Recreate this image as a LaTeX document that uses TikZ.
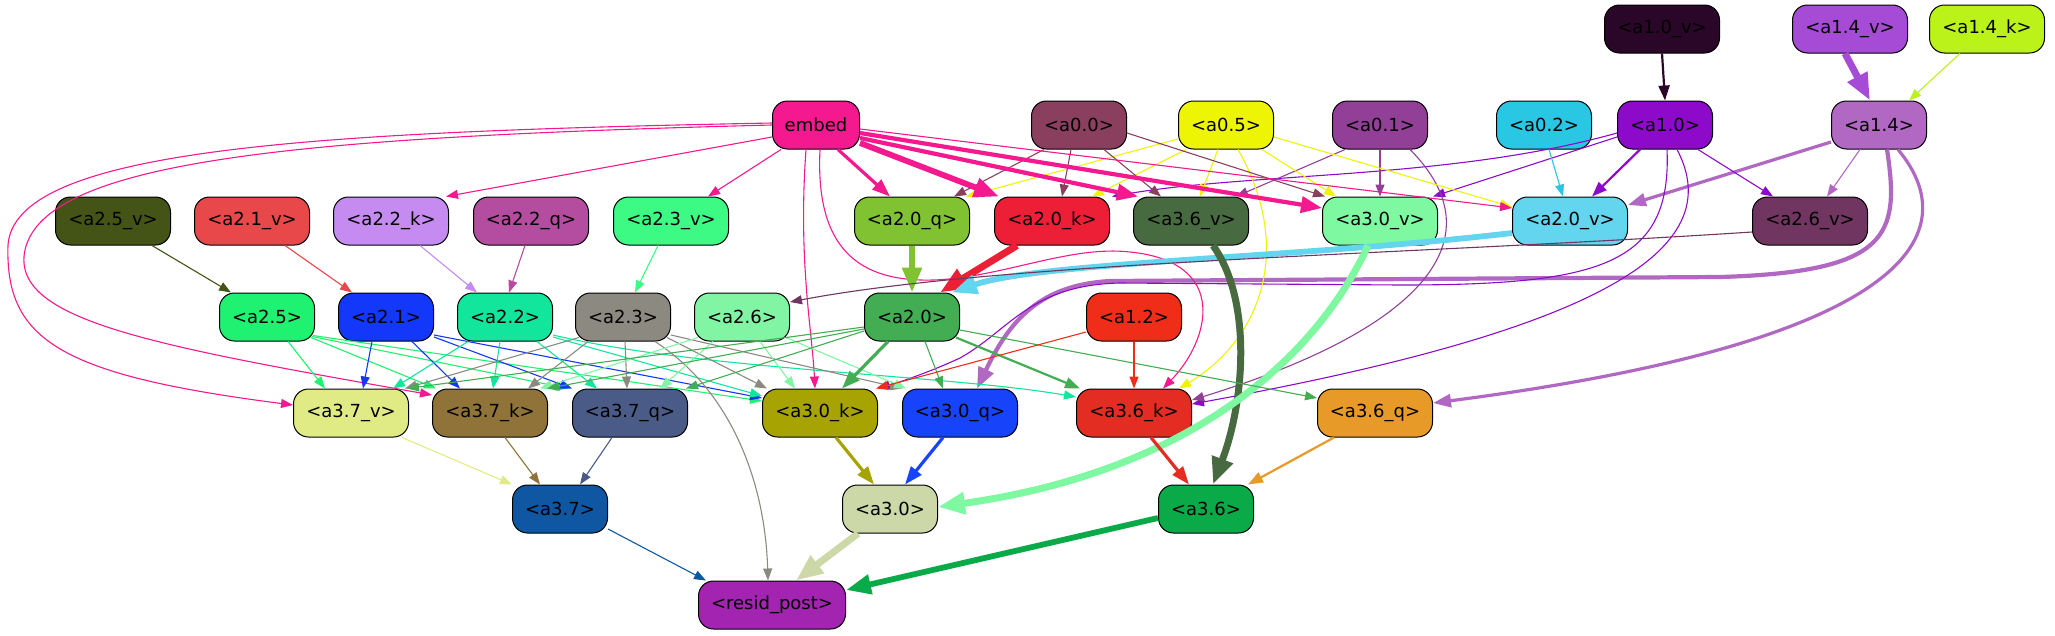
\documentclass[tikz,border=0pt]{standalone}
\usepackage{fontspec}
\setmainfont{DejaVu Sans}
\usetikzlibrary{arrows.meta}
\definecolor{c10v}{HTML}{2A0728}
\definecolor{c14v}{HTML}{A64BD5}
\definecolor{c14k}{HTML}{BAF21A}
\definecolor{cEmb}{HTML}{F4198F}
\definecolor{c00}{HTML}{8B3F5E}
\definecolor{c05}{HTML}{EDF504}
\definecolor{c01}{HTML}{923F97}
\definecolor{c02}{HTML}{29C7E3}
\definecolor{c10}{HTML}{8D0ACB}
\definecolor{c14}{HTML}{B068C2}
\definecolor{c25v}{HTML}{445316}
\definecolor{c21v}{HTML}{E84849}
\definecolor{c22k}{HTML}{C58BF0}
\definecolor{c22q}{HTML}{B44C9F}
\definecolor{c23v}{HTML}{3CFA84}
\definecolor{c20q}{HTML}{80C231}
\definecolor{c20k}{HTML}{EC1F37}
\definecolor{c36v}{HTML}{476A40}
\definecolor{c30v}{HTML}{7FF9A1}
\definecolor{c20v}{HTML}{63D5EE}
\definecolor{c26v}{HTML}{703560}
\definecolor{c25}{HTML}{1EF270}
\definecolor{c21}{HTML}{1438FA}
\definecolor{c22}{HTML}{12E69C}
\definecolor{c23}{HTML}{8C8981}
\definecolor{c26}{HTML}{81F5A4}
\definecolor{c20}{HTML}{43AD54}
\definecolor{c12}{HTML}{EF2D18}
\definecolor{c37v}{HTML}{E0EB85}
\definecolor{c37k}{HTML}{8F7338}
\definecolor{c37q}{HTML}{4A5B88}
\definecolor{c30k}{HTML}{A6A303}
\definecolor{c30q}{HTML}{1743FA}
\definecolor{c36k}{HTML}{E32D22}
\definecolor{c36q}{HTML}{E89A28}
\definecolor{c37}{HTML}{0F57A3}
\definecolor{c30}{HTML}{CDD8A8}
\definecolor{c36}{HTML}{0BAA49}
\definecolor{cRes}{HTML}{A224B0}
\begin{document}
\begin{tikzpicture}[x=1pt,y=-1pt,
 nd/.style={draw=black, line width=1pt, rounded corners=15pt, minimum height=48pt, inner sep=0pt, font=\fontsize{18}{21}\selectfont},
 sn/.style={nd, minimum width=95pt},
 ln/.style={nd, minimum width=115pt},
 w1/.style={line width=1.1pt, -{Triangle[length=12pt,width=9pt]}},
 w2/.style={line width=2.2pt, -{Triangle[length=15pt,width=11pt]}},
 w3/.style={line width=3.2pt, -{Triangle[length=18pt,width=13pt]}},
 w4/.style={line width=4.2pt, -{Triangle[length=21pt,width=16pt]}},
 w6/.style={line width=5.8pt, -{Triangle[length=25pt,width=19pt]}},
 w7/.style={line width=7pt, -{Triangle[length=27pt,width=21pt]}}
]
\useasboundingbox (0,0) rectangle (2055,635);
% nodes
\node[ln, fill=c10v] (a10v) at (1662,29) {<a1.0\_v>};
\node[ln, fill=c14v] (a14v) at (1850,29) {<a1.4\_v>};
\node[ln, fill=c14k] (a14k) at (1987,29) {<a1.4\_k>};
\node[nd, minimum width=87pt, fill=cEmb] (embed) at (816,125) {embed};
\node[sn, fill=c00] (a00) at (1079,125) {<a0.0>};
\node[sn, fill=c05] (a05) at (1226,125) {<a0.5>};
\node[sn, fill=c01] (a01) at (1380,125) {<a0.1>};
\node[sn, fill=c02] (a02) at (1544,125) {<a0.2>};
\node[sn, fill=c10] (a10) at (1665,125) {<a1.0>};
\node[sn, fill=c14] (a14) at (1879,125) {<a1.4>};
\node[ln, fill=c25v] (a25v) at (113,221) {<a2.5\_v>};
\node[ln, fill=c21v] (a21v) at (252,221) {<a2.1\_v>};
\node[ln, fill=c22k] (a22k) at (391,221) {<a2.2\_k>};
\node[ln, fill=c22q] (a22q) at (531,221) {<a2.2\_q>};
\node[ln, fill=c23v] (a23v) at (671,221) {<a2.3\_v>};
\node[ln, fill=c20q] (a20q) at (912,221) {<a2.0\_q>};
\node[ln, fill=c20k] (a20k) at (1052,221) {<a2.0\_k>};
\node[ln, fill=c36v] (a36v) at (1191,221) {<a3.6\_v>};
\node[ln, fill=c30v] (a30v) at (1380,221) {<a3.0\_v>};
\node[ln, fill=c20v] (a20v) at (1570,221) {<a2.0\_v>};
\node[ln, fill=c26v] (a26v) at (1810,221) {<a2.6\_v>};
\node[sn, fill=c25] (a25) at (267,317) {<a2.5>};
\node[sn, fill=c21] (a21) at (386,317) {<a2.1>};
\node[sn, fill=c22] (a22) at (505,317) {<a2.2>};
\node[sn, fill=c23] (a23) at (623,317) {<a2.3>};
\node[sn, fill=c26] (a26) at (742,317) {<a2.6>};
\node[sn, fill=c20] (a20) at (912,317) {<a2.0>};
\node[sn, fill=c12] (a12) at (1134,317) {<a1.2>};
\node[ln, fill=c37v] (a37v) at (351,413) {<a3.7\_v>};
\node[ln, fill=c37k] (a37k) at (490,413) {<a3.7\_k>};
\node[ln, fill=c37q] (a37q) at (630,413) {<a3.7\_q>};
\node[ln, fill=c30k] (a30k) at (820,413) {<a3.0\_k>};
\node[ln, fill=c30q] (a30q) at (960,413) {<a3.0\_q>};
\node[ln, fill=c36k] (a36k) at (1134,413) {<a3.6\_k>};
\node[ln, fill=c36q] (a36q) at (1375,413) {<a3.6\_q>};
\node[sn, fill=c37] (a37) at (560,509) {<a3.7>};
\node[sn, fill=c30] (a30) at (890,509) {<a3.0>};
\node[sn, fill=c36] (a36) at (1206,509) {<a3.6>};
\node[nd, minimum width=147pt, fill=cRes] (resid) at (772,605) {<resid\_post>};
% top edges
\draw[w2, draw=c10v] (a10v.south) -- (a10.north);
\draw[w7, draw=c14v] ([xshift=-5pt]a14v.south) -- ([xshift=-9pt]a14.north);
\draw[w1, draw=c14k] ([xshift=-27pt]a14k.south) -- ([xshift=30pt]a14.north);
% a1.4
\draw[w3, draw=c14] ([yshift=-17pt]a14.west) -- ([yshift=16pt]a20v.east);
\draw[w1, draw=c14] ([xshift=-19pt]a14.south) -- ([xshift=17pt]a26v.north);
\draw[w4, draw=c14] ([xshift=8pt]a14.south) .. controls (1900,235) and (1890,272) .. (1720,277) -- (1110,281) .. controls (1040,285) and (1010,320) .. ([xshift=17pt]a30q.north);
\draw[w3, draw=c14] ([xshift=19pt]a14.south) .. controls (1965,230) and (1920,340) .. ([yshift=10pt]a36q.east);
% a1.0
\draw[w2, draw=c10] ([xshift=-25pt]a10.south) -- ([xshift=22pt]a20v.north);
\draw[w1, draw=c10] ([xshift=33pt]a10.south) -- ([xshift=-37pt]a26v.north);
\draw[w1, draw=c10] ([yshift=-12pt]a10.west) -- ([xshift=-5pt]a30v.north east);
\draw[w1, draw=c10] ([yshift=-8pt]a10.west) .. controls (1450,180) and (1250,172) .. ([xshift=2pt]a20k.north east);
\draw[w1, draw=c10] ([xshift=2pt]a10.south) .. controls (1672,265) and (1600,285) .. (1400,285) -- (1120,283) .. controls (1030,285) and (1010,330) .. (960,358) .. controls (930,372) and (900,382) .. (a30k.north east);
\draw[w1, draw=c10] ([xshift=12pt]a10.south) .. controls (1730,250) and (1600,330) .. ([yshift=9pt]a36k.east);
% a0.1, a0.2
\draw[w1, draw=c01] (a01.south) -- (a30v.north);
\draw[w1, draw=c01] ([xshift=-35pt]a01.south) -- ([xshift=45pt]a36v.north);
\draw[w1, draw=c01] ([xshift=30pt]a01.south) .. controls (1500,240) and (1420,330) .. ([yshift=13pt]a36k.east);
\draw[w1, draw=c02] ([xshift=5pt]a02.south) -- ([xshift=-7pt]a20v.north);
% a0.5
\draw[w1, draw=c05] ([yshift=-14pt]a05.west) -- ([xshift=-4pt]a20q.north east);
\draw[w1, draw=c05] ([xshift=-40pt]a05.south) -- ([xshift=40pt]a20k.north);
\draw[w1, draw=c05] ([xshift=-8pt]a05.south) -- ([xshift=9pt]a36v.north);
\draw[w1, draw=c05] ([xshift=36pt]a05.south) -- ([xshift=-44pt]a30v.north);
\draw[w1, draw=c05] ([yshift=-12pt]a05.east) -- ([yshift=14pt]a20v.west);
\draw[w1, draw=c05] ([xshift=12pt]a05.south) .. controls (1295,250) and (1260,340) .. ([xshift=45pt]a36k.north);
% a0.0
\draw[w1, draw=c00] ([xshift=-35pt]a00.south) -- ([xshift=42pt]a20q.north);
\draw[w1, draw=c00] ([xshift=-8pt]a00.south) -- ([xshift=10pt]a20k.north);
\draw[w1, draw=c00] ([xshift=25pt]a00.south) -- ([xshift=-30pt]a36v.north);
\draw[w1, draw=c00] ([yshift=-8pt]a00.east) -- ([xshift=3pt]a30v.north west);
% embed
\draw[w3, draw=cEmb] ([xshift=22pt]embed.south) -- ([xshift=-22pt]a20q.north);
\draw[w6, draw=cEmb] ([yshift=-18pt]embed.east) -- ([xshift=5pt]a20k.north west);
\draw[w4, draw=cEmb] ([yshift=-13pt]embed.east) -- ([xshift=5pt]a36v.north west);
\draw[w4, draw=cEmb] ([yshift=-8pt]embed.east) -- ([yshift=13pt]a30v.west);
\draw[w1, draw=cEmb] ([yshift=-4pt]embed.east) -- ([yshift=13pt]a20v.west);
\draw[w1, draw=cEmb] ([xshift=-35pt]embed.south) -- ([xshift=37pt]a23v.north);
\draw[w1, draw=cEmb] ([yshift=-12pt]embed.west) -- ([xshift=-3pt]a22k.north east);
\draw[w1, draw=cEmb] ([yshift=2pt]embed.west) .. controls (300,132) and (15,150) .. (8,245) .. controls (5,340) and (60,375) .. ([yshift=8pt]a37v.west);
\draw[w1, draw=cEmb] (embed.west) .. controls (300,137) and (45,160) .. (25,250) .. controls (10,320) and (150,345) .. ([yshift=18pt]a37k.west);
\draw[w1, draw=cEmb] ([xshift=-10pt]embed.south) .. controls (798,260) and (812,330) .. ([xshift=-5pt]a30k.north);
\draw[w1, draw=cEmb] ([xshift=4pt]embed.south) .. controls (815,250) and (860,282) .. (933,280) .. controls (1000,278) and (1070,245) .. (1130,252) .. controls (1230,262) and (1210,340) .. ([xshift=29pt]a36k.north);
% into a2.0 etc
\draw[w6, draw=c20q] (a20q.south) -- (a20.north);
\draw[w7, draw=c20k] ([xshift=-35pt]a20k.south) -- ([xshift=28pt]a20.north);
\draw[w6, draw=c20v] ([yshift=-12pt]a20v.west) .. controls (1300,258) and (1040,262) .. ([xshift=-8pt]a20.north east);
\draw[w1, draw=c26v] ([yshift=-11pt]a26v.west) .. controls (1400,255) and (1000,262) .. ([yshift=15pt]a26.east);
\draw[w7, draw=c36v] ([xshift=22pt]a36v.south) .. controls (1252,300) and (1245,400) .. ([xshift=7pt]a36.north);
\draw[w7, draw=c30v] ([xshift=-12pt]a30v.south) .. controls (1320,350) and (1200,470) .. ([yshift=2pt]a30.east);
% row 3 -> row 4
\draw[w1, draw=c25v] ([xshift=39pt]a25v.south) -- ([xshift=-36pt]a25.north);
\draw[w1, draw=c21v] ([xshift=33pt]a21v.south) -- ([xshift=-34pt]a21.north);
\draw[w1, draw=c22k] ([xshift=29pt]a22k.south) -- ([xshift=-28pt]a22.north);
\draw[w1, draw=c22q] ([xshift=-6pt]a22q.south) -- ([xshift=4pt]a22.north);
\draw[w1, draw=c23v] ([xshift=-13pt]a23v.south) -- ([xshift=12pt]a23.north);
% a2.5
\draw[w1, draw=c25] ([xshift=21pt]a25.south) -- ([xshift=-26pt]a37v.north);
\draw[w1, draw=c25] ([xshift=-4pt,yshift=4pt]a25.south east) -- ([xshift=4pt]a37k.north west);
\draw[w1, draw=c25] ([xshift=-3pt,yshift=5pt]a25.south east) -- ([xshift=-4pt]a37q.north west);
\draw[w1, draw=c25] ([xshift=-2pt,yshift=6pt]a25.south east) -- ([yshift=12pt]a30k.west);
% a2.1
\draw[w1, draw=c21] ([xshift=-14pt]a21.south) -- ([xshift=12pt]a37v.north);
\draw[w1, draw=c21] ([xshift=26pt]a21.south) -- ([xshift=-30pt]a37k.north);
\draw[w1, draw=c21] ([yshift=-20pt]a21.east) -- (a37q.north west);
\draw[w1, draw=c21] ([yshift=-18pt]a21.east) -- ([yshift=15pt]a30k.west);
% a2.2
\draw[w1, draw=c22] ([xshift=-37pt]a22.south) -- ([xshift=42pt]a37v.north);
\draw[w1, draw=c22] ([xshift=-5pt]a22.south) -- ([xshift=3pt]a37k.north);
\draw[w1, draw=c22] ([xshift=32pt]a22.south) -- ([xshift=-33pt]a37q.north);
\draw[w1, draw=c22] ([yshift=-20pt]a22.east) -- ([yshift=17pt]a30k.west);
\draw[w1, draw=c22] ([yshift=-18pt]a22.east) .. controls (700,370) and (950,375) .. ([yshift=16pt]a36k.west);
% a2.3
\draw[w1, draw=c23] ([xshift=4pt,yshift=4pt]a23.south west) -- ([xshift=-4pt]a37v.north east);
\draw[w1, draw=c23] ([xshift=-35pt]a23.south) -- ([xshift=38pt]a37k.north);
\draw[w1, draw=c23] ([xshift=2pt]a23.south) -- ([xshift=-3pt]a37q.north);
\draw[w1, draw=c23] ([xshift=-4pt,yshift=4pt]a23.south east) -- ([xshift=5pt]a30k.north west);
\draw[w1, draw=c23] ([yshift=-18pt]a23.east) -- (a30q.north west);
\draw[w1, draw=c23] ([xshift=32pt]a23.south) .. controls (730,390) and (765,480) .. ([xshift=-4pt]resid.north);
% a2.6
\draw[w1, draw=c26] ([xshift=4pt,yshift=4pt]a26.south west) -- ([xshift=-8pt]a37k.north east);
\draw[w1, draw=c26] ([xshift=-29pt]a26.south) -- ([xshift=30pt]a37q.north);
\draw[w1, draw=c26] ([xshift=18pt]a26.south) -- ([xshift=-25pt]a30k.north);
\draw[w1, draw=c26] ([xshift=-4pt,yshift=4pt]a26.south east) -- ([xshift=4pt]a30q.north west);
% a2.0
\draw[w3, draw=c20] ([xshift=-24pt]a20.south) -- ([xshift=22pt]a30k.north);
\draw[w1, draw=c20] ([xshift=13pt]a20.south) -- ([xshift=-17pt]a30q.north);
\draw[w2, draw=c20] ([xshift=-4pt,yshift=4pt]a20.south east) -- ([xshift=4pt]a36k.north west);
\draw[w1, draw=c20] ([yshift=-13pt]a20.east) -- ([yshift=15pt]a36q.west);
\draw[w1, draw=c20] ([yshift=-10pt]a20.west) -- ([xshift=-2pt]a37v.north east);
\draw[w1, draw=c20] ([yshift=-12pt]a20.west) -- ([xshift=-1pt]a37k.north east);
\draw[w1, draw=c20] ([yshift=-14pt]a20.west) -- ([xshift=-2pt]a37q.north east);
% a1.2
\draw[w1, draw=c12] (a12.south) -- (a36k.north);
\draw[w1, draw=c12] ([yshift=-15pt]a12.west) -- ([xshift=-2pt]a30k.north east);
% row 5 -> row 6
\draw[w1, draw=c37v] ([xshift=51pt]a37v.south) -- (a37.north west);
\draw[w1, draw=c37k] ([xshift=15pt]a37k.south) -- ([xshift=-20pt]a37.north);
\draw[w1, draw=c37q] ([xshift=-18pt]a37q.south) -- ([xshift=20pt]a37.north);
\draw[w3, draw=c30k] ([xshift=16pt]a30k.south) -- ([xshift=-16pt]a30.north);
\draw[w3, draw=c30q] ([xshift=-17pt]a30q.south) -- ([xshift=15pt]a30.north);
\draw[w3, draw=c36k] ([xshift=17pt]a36k.south) -- ([xshift=-17pt]a36.north);
\draw[w2, draw=c36q] ([xshift=-41pt]a36q.south) -- ([xshift=-6pt]a36.north east);
% into resid
\draw[w1, draw=c37] ([yshift=-20pt]a37.east) -- ([xshift=8pt]resid.north west);
\draw[w7, draw=c30] ([xshift=-32pt]a30.south) -- ([xshift=24pt]resid.north);
\draw[w6, draw=c36] ([yshift=-9pt]a36.west) -- ([yshift=15pt]resid.east);
\end{tikzpicture}
\end{document}
